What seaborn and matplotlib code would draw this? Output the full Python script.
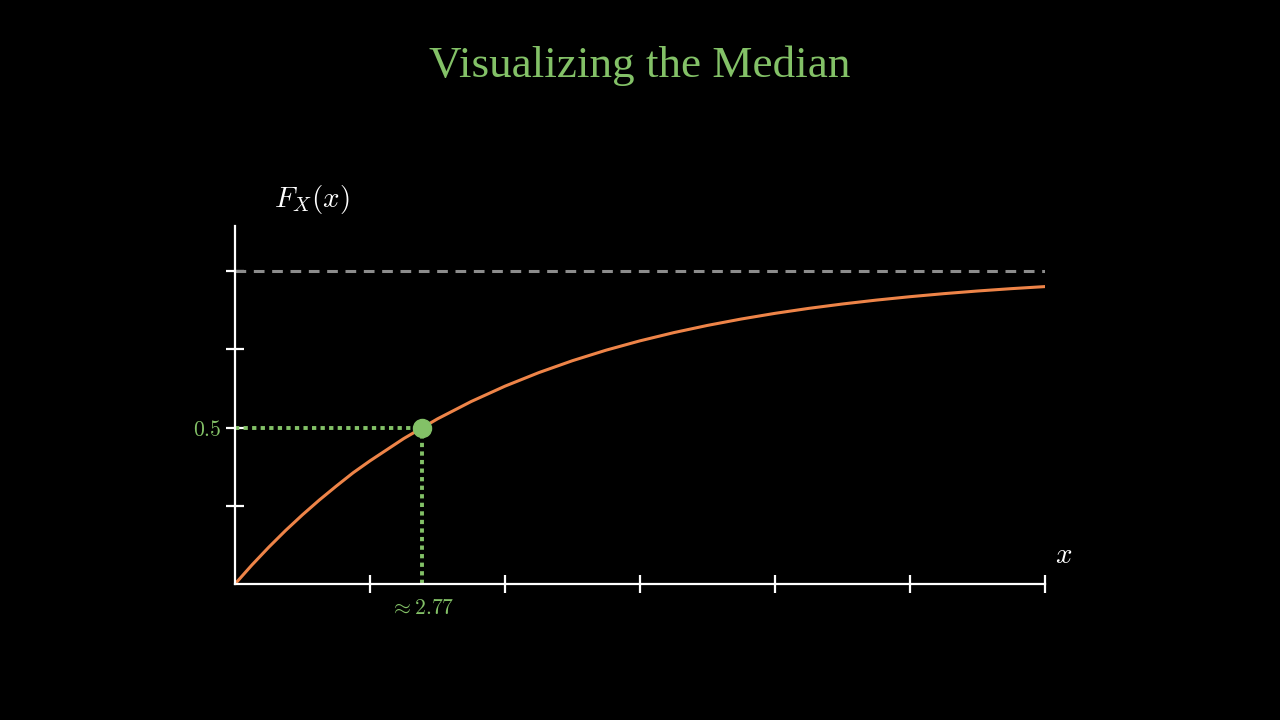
import seaborn as sns
import matplotlib.pyplot as plt
import pandas as pd

# CDF values
x_vals = [0, 0.25, 0.5, 0.75, 1, 1.25, 1.5, 1.75, 2, 2.5, 3, 3.5, 4, 4.5, 5, 5.5,
          6, 6.5, 7, 7.5, 8, 8.5, 9, 9.5, 10, 10.5, 11, 11.5, 12]
cdf_vals = [0.0, 0.0606, 0.1175, 0.1711, 0.2212, 0.2684, 0.3127, 0.3554, 0.3935,
            0.4647, 0.5276, 0.5831, 0.6321, 0.6753, 0.7135, 0.7472, 0.7769, 0.8031,
            0.8262, 0.8466, 0.8647, 0.8806, 0.8946, 0.9070, 0.9179, 0.9276, 0.9361,
            0.9436, 0.9502]
x_ticks = [2, 4, 6, 8, 10, 12]
y_ticks = [0.25, 0.5, 0.75, 1.0]
median_x = 2.77
median_y = 0.5

GREEN = "#83C167"
ORANGE = "#EE8448"
GREY = "#8C8C8C"

sns.set_style("white", {"axes.facecolor": "black", "figure.facecolor": "black"})
plt.rcParams['mathtext.fontset'] = 'cm'
plt.rcParams['font.family'] = ['Liberation Serif', 'DejaVu Serif']

df = pd.DataFrame({"x": x_vals, "F": cdf_vals})

fig = plt.figure(figsize=(12.8, 7.2), dpi=100)
ax = fig.add_axes([235 / 1280, 136 / 720, 810 / 1280, 358 / 720])
ax.set_xlim(0, 12)
ax.set_ylim(0, 358 / 313)

# asymptote
ax.plot([0, 12], [1, 1], color=GREY, lw=2.2, ls=(0, (3.5, 2.5)), zorder=1)

sns.lineplot(data=df, x="x", y="F", color=ORANGE, lw=2.2, ax=ax, zorder=3)

# median guides
dot_style = dict(color=GREEN, lw=2.8, ls=(0, (1.1, 1.1)), dash_capstyle="butt", zorder=2)
ax.plot([0, median_x], [median_y, median_y], **dot_style)
ax.plot([median_x, median_x], [0, median_y], **dot_style)
ax.plot([median_x], [median_y], "o", color=GREEN, ms=13, zorder=4)

for side in ["top", "right"]:
    ax.spines[side].set_visible(False)
for side in ["left", "bottom"]:
    ax.spines[side].set_color("white")
    ax.spines[side].set_linewidth(1.6)
    ax.spines[side].set_zorder(5)

ax.set_xticks(x_ticks)
ax.set_yticks(y_ticks)
ax.set_xticklabels([])
ax.set_yticklabels([])
ax.tick_params(bottom=True, left=True, colors="white", direction="inout",
               length=12.5, width=1.6)
ax.set_xlabel("")
ax.set_ylabel("")

ax.text(1.14, 1.228, r"$F_X(x)$", color="white", fontsize=21, ha="center", va="center")
ax.text(12.15, 0.088, r"$x$", color="white", fontsize=21, ha="left", va="center")
ax.text(-0.2, median_y - 0.01, r"$0.5$", color=GREEN, fontsize=15.5, ha="right",
        va="center")
ax.text(median_x, -0.082, r"$\approx 2.77$", color=GREEN, fontsize=15.5,
        ha="center", va="center")

fig.text(0.5, 1 - 66 / 720, "Visualizing the Median", color=GREEN, fontsize=32.5,
         ha="center", va="center")

fig.savefig("out.png", dpi=100, facecolor="black")
